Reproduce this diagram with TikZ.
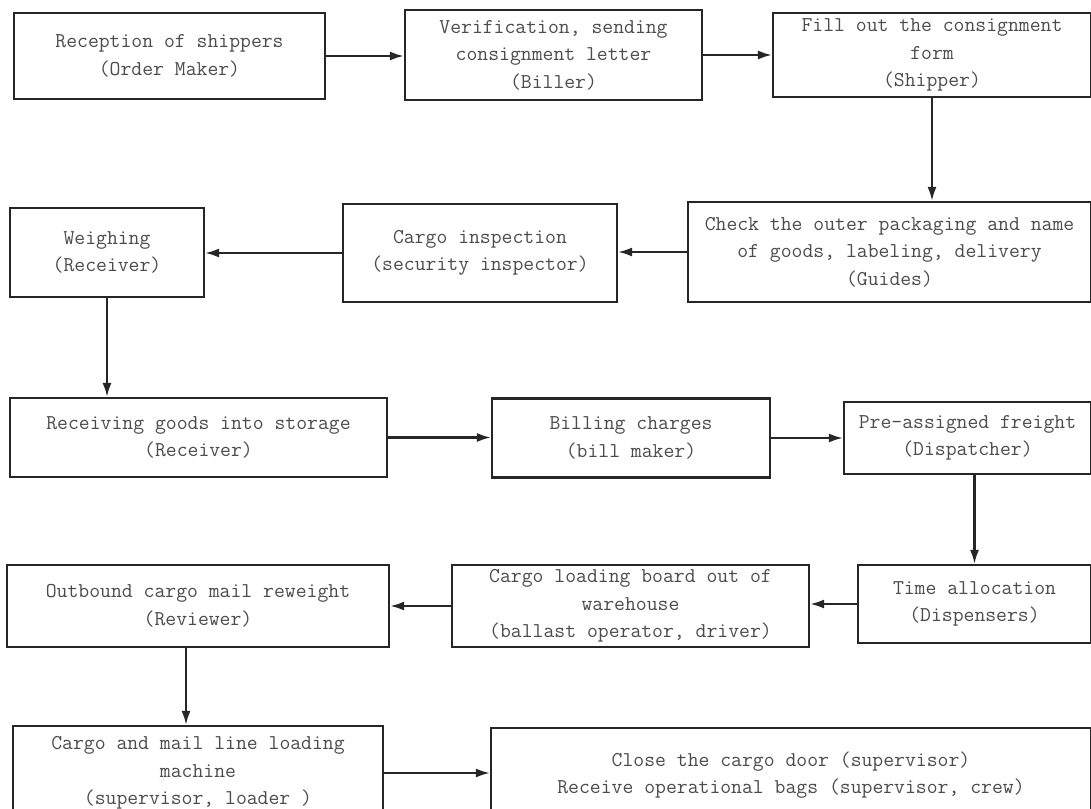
\documentclass[tikz,border=0pt]{standalone}
\usepackage{tikz}
\usetikzlibrary{arrows.meta}

\begin{document}
\begin{tikzpicture}[x=1pt, y=-1pt,
    stage/.style={draw=black!85, line width=2.2pt, text=black!70, align=center, inner sep=2pt,
      font=\ttfamily\fontsize{21.1}{27.5}\selectfont},
    flow/.style={-{Latex[length=14pt, width=9pt]}, draw=black!85, line width=2.2pt}]
            \useasboundingbox (0, 0) rectangle (1091, 808);
            \fill[white] (0, 0) rectangle (1091, 808);
            \clip (0, 0) rectangle (1091, 808);
            \node[stage, minimum width=311, minimum height=86] (recept) at (169.5, 56) {Reception of shippers\\(Order Maker)};
            \node[stage, minimum width=297, minimum height=90] (verify) at (553.5, 55) {Verification, sending\\consignment letter\\(Biller)};
            \node[stage, minimum width=318, minimum height=84] (fillform) at (932, 55) {Fill out the consignment\\form\\(Shipper)};
            \node[stage, minimum width=403, minimum height=100] (check) at (889.5, 252) {Check the outer packaging and name\\of goods, labeling, delivery\\(Guides)};
            \node[stage, minimum width=274, minimum height=98] (inspect) at (480, 253) {Cargo inspection\\(security inspector)};
            \node[stage, minimum width=194, minimum height=89] (weigh) at (107, 252.5) {Weighing\\(Receiver)};
            \node[stage, minimum width=377, minimum height=79] (storage) at (198.5, 437.5) {Receiving goods into storage\\(Receiver)};
            \node[stage, minimum width=278, minimum height=79] (billing) at (631, 438) {Billing charges\\(bill maker)};
            \node[stage, minimum width=247, minimum height=72] (preassign) at (967.5, 438) {Pre-assigned freight\\(Dispatcher)};
            \node[stage, minimum width=233, minimum height=78] (timealloc) at (974.5, 604) {Time allocation\\(Dispensers)};
            \node[stage, minimum width=357, minimum height=82] (loadboard) at (630.5, 606) {Cargo loading board out of\\warehouse\\(ballast operator, driver)};
            \node[stage, minimum width=382, minimum height=82] (reweigh) at (198, 606) {Outbound cargo mail reweight\\(Reviewer)};
            \node[stage, minimum width=370, minimum height=94] (loadmach) at (198, 773) {Cargo and mail line loading\\machine\\(supervisor, loader )};
            \node[stage, minimum width=600, minimum height=94] (closedoor) at (791, 775) {Close the cargo door (supervisor)\\Receive operational bags (supervisor, crew)};
            \draw[flow] (recept.east) -- (recept.east -| verify.west);
            \draw[flow] (verify.east) -- (verify.east -| fillform.west);
            \draw[flow] (fillform.south) -- (fillform.south |- check.north);
            \draw[flow] (check.west) -- (check.west -| inspect.east);
            \draw[flow] (inspect.west) -- (inspect.west -| weigh.east);
            \draw[flow] (weigh.south) -- (weigh.south |- storage.north);
            \draw[flow] (storage.east) -- (storage.east -| billing.west);
            \draw[flow] (billing.east) -- (billing.east -| preassign.west);
            \draw[flow] (preassign.south -| timealloc.north) -- (timealloc.north);
            \draw[flow] (timealloc.west) -- (timealloc.west -| loadboard.east);
            \draw[flow] (loadboard.west) -- (loadboard.west -| reweigh.east);
            \draw[flow] ([xshift=-12]reweigh.south) -- ([xshift=-12]reweigh.south |- loadmach.north);
            \draw[flow] (loadmach.east) -- (loadmach.east -| closedoor.west);
        \end{tikzpicture}
\end{document}
